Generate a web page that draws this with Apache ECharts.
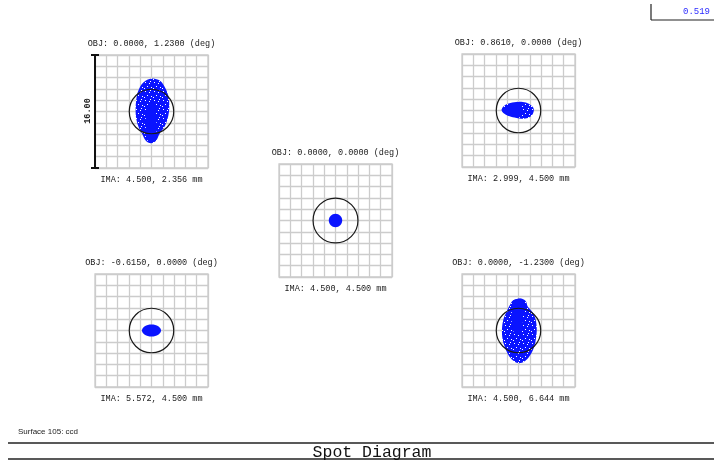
<!DOCTYPE html>
<html>
<head>
<meta charset="utf-8">
<script src="https://cdn.jsdelivr.net/npm/echarts@6/dist/echarts.min.js"></script>
<style>
  html, body { margin: 0; padding: 0; background: #fff; }
  #main { width: 714px; height: 461px; }
</style>
</head>
<body>
<div id="main"></div>
<script>
var myChart = echarts.init(document.getElementById("main"));

// field labels
const objLabels = [
  "OBJ: 0.0000, 1.2300 (deg)",
  "OBJ: 0.0000, 0.0000 (deg)",
  "OBJ: 0.8610, 0.0000 (deg)",
  "OBJ: -0.6150, 0.0000 (deg)",
  "OBJ: 0.0000, -1.2300 (deg)",
];
const imaLabels = [
  "IMA: 4.500, 2.356 mm",
  "IMA: 4.500, 4.500 mm",
  "IMA: 2.999, 4.500 mm",
  "IMA: 5.572, 4.500 mm",
  "IMA: 4.500, 6.644 mm",
];

// box is 16 um across, 10 divisions
const scaleBar = 16.0;
const halfBox = 8;
const tickStep = 1.6;
const airyRadius = [3.15, 3.18, 3.15, 3.15, 3.15];

// spot outlines (um)
const spot1Outline = [
  [0.03, 4.67], [-1.16, 4.11], [-1.87, 2.93], [-2.15, 1.74], [-2.25, 0.33],
  [-2.15, -1.09], [-1.8, -2.27], [-1.3, -3.22], [-0.8, -4.15], [-0.11, -4.49],
  [0.64, -4.15], [1.1, -3.22], [1.91, -2.03], [2.38, -0.61], [2.52, 0.81],
  [2.38, 2.22], [1.91, 3.4], [1.2, 4.35],
];
const spot1Core = [
  [-0.3, 1.2], [-0.75, 0.0], [-0.8, -2.0], [-0.7, -3.8], [-0.1, -4.45],
  [0.6, -3.9], [0.7, -2.0], [0.6, 0.0], [0.25, 1.2],
];
const spot2Ellipse = [0, 0, 0.95, 0.95];
const spot3Outline = [
  [-2.4, 0.1], [-2.1, 0.6], [-1.4, 0.98], [-0.33, 1.2], [0.61, 1.2],
  [1.46, 0.96], [2.03, 0.5], [2.17, 0.03], [1.95, -0.59], [1.32, -1.06],
  [0.38, -1.16], [-0.57, -1.0], [-1.5, -0.75], [-2.15, -0.35],
];
const spot3Core = [
  [-2.2, 0.1], [-1.6, 0.75], [-0.4, 1.05], [0.4, 0.9], [0.5, 0.0],
  [0.3, -0.9], [-0.6, -0.9], [-1.7, -0.55],
];
const spot4Ellipse = [0, 0, 1.35, 0.85];
const spot5Outline = [
  [-0.11, 4.49], [-0.82, 4.21], [-1.2, 3.64], [-1.67, 2.69], [-2.15, 1.52],
  [-2.34, 0.1], [-2.24, -1.32], [-1.87, -2.51], [-1.3, -3.68], [-0.59, -4.39],
  [0.11, -4.63], [0.82, -4.39], [1.53, -3.68], [2.15, -2.51], [2.48, -1.09],
  [2.58, 0.33], [2.38, 1.74], [1.91, 2.69], [1.3, 3.4], [1.06, 4.11], [0.5, 4.49],
];
const spot5Core = [
  [-0.1, 4.45], [-0.85, 4.15], [-0.95, 2.5], [-0.9, 0.5], [-0.4, -0.6],
  [0.3, -0.5], [0.6, 0.8], [0.65, 2.6], [0.9, 3.9], [0.4, 4.45],
];

// box placement in pixels
const boxes = [
  { left: 95, top: 55 },
  { left: 279, top: 164 },
  { left: 462, top: 54 },
  { left: 95, top: 274 },
  { left: 462, top: 274 },
];
const boxSize = 113;

// speckled blue fill like the ray dots
function speckle() {
  const c = document.createElement("canvas");
  c.width = 9;
  c.height = 9;
  const ctx = c.getContext("2d");
  ctx.fillStyle = "#0a14ff";
  ctx.fillRect(0, 0, 9, 9);
  ctx.fillStyle = "#ffffff";
  [[1, 1], [5, 2], [3, 5], [7, 6], [0, 7], [6, 0]].forEach((p) => ctx.fillRect(p[0], p[1], 1, 1));
  return { image: c, repeat: "repeat" };
}
const speckleFill = speckle();

const grids = boxes.map((b) => ({
  left: b.left,
  top: b.top,
  width: boxSize,
  height: boxSize,
  show: true,
  borderColor: "#cccccc",
  borderWidth: 1.3,
}));

function axis(i) {
  return {
    gridIndex: i,
    type: "value",
    min: -halfBox,
    max: halfBox,
    interval: tickStep,
    axisLine: { show: false },
    axisTick: { show: false },
    axisLabel: { show: false },
    splitLine: { show: true, lineStyle: { color: "#cccccc", width: 1.3 } },
  };
}

function polySeries(gi, pts, fill, z) {
  return {
    type: "custom",
    xAxisIndex: gi,
    yAxisIndex: gi,
    silent: true,
    z: z,
    data: [pts[0]],
    renderItem: function (params, api) {
      return {
        type: "polygon",
        shape: { points: pts.map((p) => api.coord(p)), smooth: 0.35 },
        style: { fill: fill },
      };
    },
  };
}

function ellipseSeries(gi, e, fill) {
  return {
    type: "custom",
    xAxisIndex: gi,
    yAxisIndex: gi,
    silent: true,
    z: 3,
    data: [e],
    renderItem: function (params, api) {
      const c = api.coord([api.value(0), api.value(1)]);
      const s = api.size([api.value(2), api.value(3)]);
      return {
        type: "ellipse",
        shape: { cx: c[0], cy: c[1], rx: s[0], ry: s[1] },
        style: { fill: fill },
      };
    },
  };
}

function airySeries(gi) {
  return {
    type: "custom",
    xAxisIndex: gi,
    yAxisIndex: gi,
    silent: true,
    z: 5,
    data: [[0, 0, airyRadius[gi]]],
    renderItem: function (params, api) {
      const c = api.coord([api.value(0), api.value(1)]);
      const s = api.size([api.value(2), api.value(2)]);
      return {
        type: "ellipse",
        shape: { cx: c[0], cy: c[1], rx: s[0], ry: s[1] },
        style: { fill: "none", stroke: "#1a1a1a", lineWidth: 1.2 },
      };
    },
  };
}

const txt = { fontFamily: "Liberation Mono", fontSize: 8.5, fontWeight: "normal", color: "#1a1a1a" };

const titles = [];
boxes.forEach((b, i) => {
  const cx = b.left + boxSize / 2;
  titles.push({ text: objLabels[i], left: cx, top: b.top - 16, padding: 0, textAlign: "center", textStyle: txt });
  titles.push({ text: imaLabels[i], left: cx, top: b.top + boxSize + 7, padding: 0, textAlign: "center", textStyle: txt });
});
titles.push({
  text: "Spot Diagram",
  left: 372,
  top: 444,
  padding: 0,
  textAlign: "center",
  textStyle: { fontFamily: "Liberation Mono", fontSize: 16.5, fontWeight: "normal", color: "#111" },
});
titles.push({
  text: "Surface 105: ccd",
  left: 18,
  top: 428,
  padding: 0,
  textStyle: { fontFamily: "Liberation Sans", fontSize: 8, fontWeight: "normal", color: "#222" },
});
titles.push({
  text: "0.519",
  left: 683,
  top: 7,
  padding: 0,
  textStyle: { fontFamily: "Liberation Mono", fontSize: 9, fontWeight: "normal", color: "#2b2bff" },
});

option = {
  backgroundColor: "#fff",
  animation: false,
  title: titles,
  grid: grids,
  xAxis: boxes.map((b, i) => axis(i)),
  yAxis: boxes.map((b, i) => axis(i)),
  series: [
    polySeries(0, spot1Outline, speckleFill, 3),
    polySeries(0, spot1Core, "#0a14ff", 4),
    ellipseSeries(1, spot2Ellipse, "#0a14ff"),
    polySeries(2, spot3Outline, speckleFill, 3),
    polySeries(2, spot3Core, "#0a14ff", 4),
    ellipseSeries(3, spot4Ellipse, "#0a14ff"),
    polySeries(4, spot5Outline, speckleFill, 3),
    polySeries(4, spot5Core, "#0a14ff", 4),
    airySeries(0),
    airySeries(1),
    airySeries(2),
    airySeries(3),
    airySeries(4),
  ],
  graphic: [
    // scale bar on the first box
    { type: "line", shape: { x1: 95, y1: 55, x2: 95, y2: 168 }, style: { stroke: "#111", lineWidth: 2 }, z: 10 },
    { type: "line", shape: { x1: 91, y1: 55, x2: 99, y2: 55 }, style: { stroke: "#111", lineWidth: 2 }, z: 10 },
    { type: "line", shape: { x1: 91, y1: 168, x2: 99, y2: 168 }, style: { stroke: "#111", lineWidth: 2 }, z: 10 },
    {
      type: "text",
      x: 88,
      y: 111,
      rotation: Math.PI / 2,
      style: { text: scaleBar.toFixed(2), fontFamily: "Liberation Mono", fontSize: 8.5, fontWeight: "bold", fill: "#222", align: "center", verticalAlign: "middle" },
      z: 10,
    },
    // frame lines
    { type: "line", shape: { x1: 8, y1: 443, x2: 714, y2: 443 }, style: { stroke: "#222", lineWidth: 1.5 } },
    { type: "line", shape: { x1: 8, y1: 459, x2: 714, y2: 459 }, style: { stroke: "#222", lineWidth: 1.5 } },
    { type: "line", shape: { x1: 651, y1: 4, x2: 651, y2: 20 }, style: { stroke: "#222", lineWidth: 1.2 } },
    { type: "line", shape: { x1: 651, y1: 20, x2: 714, y2: 20 }, style: { stroke: "#222", lineWidth: 1.2 } },
  ],
};
myChart.setOption(option);
</script>
</body>
</html>
